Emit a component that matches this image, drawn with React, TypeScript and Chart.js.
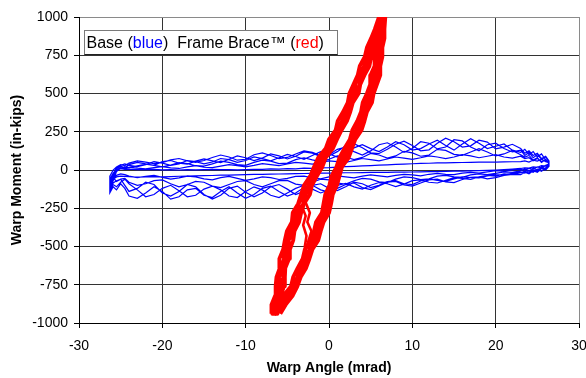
import React, { useEffect, useRef } from 'react';
import { Chart, registerables } from 'chart.js';

Chart.register(...registerables);

// ---------- axis ticks ----------
const angleTicks = [-30, -20, -10, 0, 10, 20, 30];
const momentTicks = [-1000, -750, -500, -250, 0, 250, 500, 750, 1000];

// ---------- Base (blue) hysteresis: shared angle grid ----------
const blueAngle = [
  -26.3, -25.9, -25.5, -25, -24.5, -24, -23, -22, -21, -20,
  -19, -18, -17, -16, -15, -14, -13, -12, -11, -10,
  -9, -8, -7, -6, -5, -4, -3, -2, -1, 0,
  1, 2, 3, 4, 5, 6, 7, 8, 9, 10,
  11, 12, 13, 14, 15, 16, 17, 18, 19, 20,
  21, 22, 23, 23.5, 24, 24.5, 25, 25.5, 26, 26.4,
];

// upper branches (angle increasing)
const blueUp1 = [
  -60, -20, 5, 8, 4, 6, 3, 2, 4, 1,
  2, 0, 3, 1, 2, 4, 2, 3, 1, 3,
  5, 4, 7, 6, 9, 8, 12, 11, 14, 15,
  19, 22, 24, 27, 29, 32, 34, 37, 39, 41,
  43, 44, 46, 47, 48, 49, 50, 51, 51, 52,
  53, 54, 55, 60, 52, 65, 58, 70, 55, 48,
];
const blueUp2 = [
  -90, -40, 10, 25, 15, 35, 50, 40, 30, 55,
  62, 45, 38, 58, 72, 60, 48, 70, 92, 80,
  62, 78, 105, 92, 72, 90, 118, 110, 88, 100,
  135, 150, 120, 98, 125, 165, 178, 150, 115, 140,
  185, 175, 138, 150, 198, 190, 150, 125, 165, 175,
  140, 118, 130, 95, 115, 80, 100, 70, 85, 55,
];
const blueUp3 = [
  -40, 0, 20, 35, 28, 45, 60, 52, 42, 48,
  66, 75, 60, 50, 62, 82, 98, 85, 64, 70,
  100, 112, 95, 75, 82, 105, 125, 115, 95, 92,
  120, 160, 172, 145, 112, 108, 135, 168, 188, 160,
  125, 132, 175, 208, 185, 150, 158, 195, 182, 138,
  150, 168, 140, 110, 125, 95, 110, 75, 90, 60,
];
const blueUp4 = [
  -120, -70, -10, 12, 20, 15, 28, 38, 30, 20,
  32, 48, 42, 28, 25, 40, 58, 50, 35, 30,
  50, 65, 58, 42, 45, 68, 80, 66, 55, 70,
  92, 85, 68, 82, 108, 98, 78, 92, 122, 112,
  90, 98, 135, 128, 102, 96, 118, 140, 118, 92,
  105, 128, 100, 85, 95, 65, 80, 50, 70, 40,
];
const blueUp5 = [
  -70, -30, 15, 30, 40, 30, 22, 35, 55, 45,
  30, 40, 62, 55, 40, 52, 75, 68, 50, 62,
  85, 75, 60, 80, 102, 88, 70, 95, 120, 105,
  85, 110, 145, 165, 140, 120, 150, 185, 165, 130,
  140, 170, 195, 160, 130, 170, 205, 175, 140, 155,
  170, 130, 115, 135, 100, 120, 85, 105, 65, 50,
];
const blueUp6 = [
  -100, -50, 0, 15, 8, 18, 12, 8, 15, 22,
  14, 10, 20, 28, 18, 15, 25, 35, 28, 20,
  30, 42, 35, 28, 40, 50, 45, 38, 48, 60,
  55, 50, 62, 75, 68, 60, 72, 85, 78, 70,
  80, 92, 85, 75, 85, 100, 92, 80, 90, 100,
  85, 78, 90, 75, 80, 60, 75, 55, 65, 45,
];

// lower branches (stored by angle grid, travelled with angle decreasing)
const blueDown1 = [
  -100, -60, -45, -40, -42, -44, -46, -45, -44, -45,
  -43, -41, -40, -38, -37, -36, -34, -33, -32, -30,
  -29, -28, -27, -26, -25, -24, -23, -22, -21, -20,
  -19, -18, -18, -17, -16, -16, -15, -14, -14, -13,
  -12, -11, -10, -9, -8, -7, -6, -4, -2, 0,
  3, 6, 10, 14, 12, 20, 18, 28, 25, 35,
];
const blueDown2 = [
  -150, -110, -130, -90, -120, -170, -185, -150, -110, -140,
  -190, -175, -130, -120, -165, -180, -140, -110, -150, -185,
  -160, -120, -105, -140, -170, -150, -115, -100, -130, -145,
  -120, -95, -85, -115, -128, -105, -80, -75, -98, -105,
  -85, -65, -60, -78, -82, -62, -48, -45, -58, -50,
  -35, -28, -30, -15, -25, -5, -15, 10, 0, 25,
];
const blueDown3 = [
  -130, -85, -70, -60, -100, -140, -120, -80, -95, -150,
  -170, -140, -95, -110, -160, -190, -165, -120, -105, -145,
  -175, -150, -110, -95, -125, -160, -140, -100, -90, -120,
  -135, -110, -80, -90, -115, -100, -75, -70, -90, -95,
  -72, -58, -68, -75, -58, -45, -50, -52, -38, -30,
  -32, -22, -12, -20, -5, -15, 5, -8, 15, 30,
];
const blueDown4 = [
  -80, -50, -75, -60, -55, -80, -100, -90, -70, -65,
  -90, -110, -95, -75, -80, -105, -115, -95, -75, -70,
  -95, -110, -90, -70, -68, -92, -100, -80, -60, -65,
  -85, -92, -70, -55, -60, -78, -82, -60, -45, -50,
  -62, -58, -40, -35, -45, -48, -32, -25, -30, -22,
  -12, -15, -5, 5, -8, 12, 0, 20, 8, 40,
];
const blueDown5 = [
  -140, -95, -110, -80, -60, -90, -130, -175, -160, -120,
  -100, -135, -175, -165, -125, -105, -130, -170, -180, -140,
  -110, -130, -165, -180, -150, -120, -100, -125, -150, -130,
  -100, -88, -110, -125, -100, -82, -90, -108, -92, -70,
  -65, -80, -85, -68, -50, -55, -62, -45, -35, -40,
  -25, -30, -18, -8, -20, 0, -10, 15, 5, 35,
];
const blueDown6 = [
  -90, -55, -35, -25, -30, -40, -50, -42, -35, -48,
  -60, -52, -40, -45, -58, -65, -50, -42, -55, -68,
  -58, -45, -50, -62, -55, -42, -40, -52, -58, -45,
  -38, -45, -52, -40, -32, -38, -45, -35, -28, -32,
  -38, -28, -22, -28, -30, -20, -15, -20, -12, -5,
  -8, 0, 5, -2, 10, 5, 20, 12, 30, 38,
];

// ---------- Frame Brace (red) hysteresis: shared moment grid ----------
const redMoment = [
  -940, -880, -820, -760, -700, -640, -580, -520, -460, -400, -340,
  -280, -220, -160, -100, -40, 20, 80, 140, 200, 260, 320,
  380, 440, 500, 560, 620, 680, 740, 800, 860, 920, 1000,
];
// loading branches (moment increasing)
const redUp1 = [
  -6.9, -6.9, -6.45, -6.4, -6.3, -5.9, -5.95, -5.5, -5.3, -5.05, -4.45,
  -4.35, -3.7, -3.35, -3.0, -2.25, -1.8, -1.3, -0.4, 0.0, 0.8, 1.05,
  1.7, 2.25, 2.45, 2.95, 3.45, 3.7, 4.3, 4.55, 5.05, 5.5, 6.0,
];
const redUp2 = [
  -6.8, -6.4, -6.3, -5.95, -6.0, -5.7, -5.4, -5.4, -4.85, -4.65, -4.4,
  -3.85, -3.65, -3.0, -2.45, -2.15, -1.35, -0.9, -0.35, 0.45, 1.0, 1.6,
  1.85, 2.4, 2.95, 3.15, 3.7, 4.25, 4.45, 4.95, 5.25, 5.75, 6.1,
];
const redUp3 = [
  -6.4, -6.3, -5.9, -5.9, -5.45, -5.5, -5.2, -4.9, -4.85, -4.25, -4.0,
  -3.75, -3.05, -2.85, -2.25, -1.65, -1.35, -0.5, 0.05, 0.55, 1.45, 1.75,
  2.15, 2.8, 3.15, 3.7, 3.85, 4.45, 4.95, 5.05, 5.6, 5.95, 6.4,
];
const redUp4 = [
  -6.2, -5.8, -5.8, -5.4, -5.3, -5.25, -4.8, -4.7, -4.3, -4.15, -3.6,
  -3.35, -3.0, -2.3, -2.05, -1.45, -0.8, -0.4, 0.45, 0.95, 1.5, 2.15,
  2.55, 2.85, 3.55, 3.75, 4.25, 4.85, 5.05, 5.45, 5.75, 6.25, 6.45,
];
// unloading branches (stored by moment grid, travelled with moment decreasing)
const redDown1 = [
  -6.65, -6.0, -5.45, -4.55, -4.3, -3.75, -3.15, -2.9, -2.25, -1.8, -1.55,
  -0.85, -0.65, -0.45, 0.05, 0.3, 0.9, 1.25, 1.85, 2.5, 2.8, 3.4,
  3.85, 4.05, 4.55, 4.95, 5.0, 5.45, 5.5, 5.5, 5.85, 6.05, 6.25,
];
const redDown2 = [
  -6.45, -5.6, -5.15, -4.4, -3.75, -3.55, -2.95, -2.35, -2.1, -1.45, -1.15,
  -0.8, -0.25, -0.05, 0.1, 0.75, 1.1, 1.75, 2.05, 2.65, 3.35, 3.55,
  4.05, 4.55, 4.75, 5.3, 5.45, 5.55, 5.9, 5.9, 5.95, 6.3, 6.35,
];
const redDown3 = [
  -6.25, -5.4, -4.65, -4.2, -3.6, -3.05, -2.8, -2.15, -1.6, -1.4, -0.75,
  -0.4, -0.15, 0.4, 0.55, 0.85, 1.5, 1.95, 2.55, 2.85, 3.5, 4.05,
  4.2, 4.75, 5.25, 5.35, 5.85, 5.95, 6.0, 6.3, 6.35, 6.4, 6.55,
];
const redDown4 = [
  -5.85, -5.2, -4.35, -3.8, -3.4, -2.75, -2.35, -2.0, -1.3, -1.0, -0.65,
  0.0, 0.25, 0.45, 0.95, 1.25, 1.55, 2.35, 2.75, 3.15, 3.9, 4.25,
  4.55, 5.15, 5.35, 5.75, 6.15, 6.15, 6.4, 6.4, 6.65, 6.65, 6.75,
];
// small inner loop inside the red band
const redInnerAngle = [-2.9, -2.3, -2.6, -2.1, -2.5, -2.2, -2.6, -2.9, -2.7, -3.1, -2.8, -3.3];
const redInnerMoment = [-200, -280, -340, -400, -470, -540, -580, -500, -430, -360, -300, -230];

// ---------- texts ----------
const xTitle = 'Warp Angle (mrad)';
const yTitle = 'Warp Moment (in-kips)';
const legendTexts = ['Base (', 'blue', ')  Frame Brace\u2122 (', 'red', ')'];

function buildBlue() {
  const ups = [blueUp1, blueUp2, blueUp3, blueUp4, blueUp5, blueUp6];
  const downs = [blueDown1, blueDown3, blueDown2, blueDown4, blueDown5, blueDown6];
  const pts: { x: number; y: number }[] = [];
  for (let c = 0; c < ups.length; c++) {
    for (let i = 0; i < blueAngle.length; i++) pts.push({ x: blueAngle[i], y: ups[c][i] });
    for (let i = blueAngle.length - 1; i >= 0; i--) pts.push({ x: blueAngle[i], y: downs[c][i] });
  }
  return pts;
}

function buildRed() {
  const ups = [redUp1, redUp2, redUp3, redUp4];
  const downs = [redDown1, redDown2, redDown3, redDown4];
  const pts: { x: number; y: number }[] = [];
  for (let c = 0; c < ups.length; c++) {
    for (let i = 0; i < redMoment.length; i++) pts.push({ x: ups[c][i], y: redMoment[i] });
    for (let i = redMoment.length - 1; i >= 0; i--) pts.push({ x: downs[c][i], y: redMoment[i] });
  }
  return pts;
}

function buildInner() {
  return redInnerAngle.map((a, i) => ({ x: a, y: redInnerMoment[i] }));
}

const FONT = '"Liberation Sans", Arial, Helvetica, sans-serif';

const legendBoxPlugin = {
  id: 'legendBox',
  afterDraw(chart: any) {
    const ctx = chart.ctx as CanvasRenderingContext2D;
    const a = chart.chartArea;
    const x = Math.round(a.left) + 5.5;
    const y = Math.round(a.top) + 13.5;
    const w = 253;
    const h = 24;
    ctx.save();
    ctx.fillStyle = '#ffffff';
    ctx.fillRect(x, y, w, h);
    ctx.strokeStyle = '#7a7a7a';
    ctx.lineWidth = 1;
    ctx.strokeRect(x, y, w, h);
    ctx.strokeStyle = '#222';
    ctx.beginPath();
    ctx.moveTo(x, y + h);
    ctx.lineTo(x + w, y + h);
    ctx.stroke();
    ctx.font = `16px ${FONT}`;
    ctx.textBaseline = 'alphabetic';
    ctx.textAlign = 'left';
    const colors = ['#000000', '#0000ff', '#000000', '#ff0000', '#000000'];
    let tx = x + 2;
    const ty = y + 17;
    legendTexts.forEach((t, i) => {
      ctx.fillStyle = colors[i];
      ctx.fillText(t, tx, ty);
      tx += ctx.measureText(t).width;
    });
    ctx.restore();
  },
};

export default function App() {
  const ref = useRef<HTMLCanvasElement | null>(null);

  useEffect(() => {
    document.body.style.margin = '0';
    const canvas = ref.current;
    if (!canvas) return;
    Chart.defaults.font.family = FONT;
    const chart = new Chart(canvas, {
      type: 'scatter',
      data: {
        datasets: [
          {
            label: 'Frame Brace',
            data: buildRed(),
            showLine: true,
            borderColor: '#ff0000',
            backgroundColor: '#ff0000',
            borderWidth: 3.9,
            borderJoinStyle: 'round',
            pointRadius: 0,
            tension: 0,
            order: 0,
            clip: 0,
          },
          {
            label: 'Frame Brace inner',
            data: buildInner(),
            showLine: true,
            borderColor: '#ff0000',
            backgroundColor: '#ff0000',
            borderWidth: 2.6,
            borderJoinStyle: 'round',
            pointRadius: 0,
            tension: 0,
            order: 0,
            clip: 0,
          },
          {
            label: 'Base',
            data: buildBlue(),
            showLine: true,
            borderColor: '#0000ff',
            backgroundColor: '#0000ff',
            borderWidth: 1.2,
            pointRadius: 0,
            tension: 0,
            order: 1,
            clip: 0,
          },
        ],
      },
      options: {
        animation: false,
        responsive: false,
        events: [],
        layout: { padding: { top: 17, right: 21, left: 0, bottom: 0 } },
        plugins: {
          legend: { display: false },
          tooltip: { enabled: false },
          title: { display: false },
        },
        scales: {
          x: {
            type: 'linear',
            min: -30,
            max: 30,
            afterBuildTicks: (s: any) => {
              s.ticks = angleTicks.map((v) => ({ value: v }));
            },
            afterFit: (s: any) => {
              s.height = 55;
            },
            grid: {
              color: (c: any) => (c.tick && c.tick.value === 30 ? '#8a8a8a' : '#333333'),
              lineWidth: 1,
              drawTicks: true,
              tickLength: 5,
              tickColor: '#000000',
            },
            border: { display: true, color: '#000000', width: 1 },
            ticks: {
              color: '#000000',
              font: { size: 14, family: FONT },
              padding: 10,
              maxRotation: 0,
              autoSkip: false,
              callback: (v: any) => String(v),
            },
            title: {
              display: true,
              text: xTitle,
              color: '#000000',
              font: { size: 14, weight: 'bold', family: FONT },
              padding: { top: 0, bottom: 1 },
            },
          },
          y: {
            type: 'linear',
            min: -1000,
            max: 1000,
            afterBuildTicks: (s: any) => {
              s.ticks = momentTicks.map((v) => ({ value: v }));
            },
            afterFit: (s: any) => {
              s.width = 79;
            },
            grid: {
              color: (c: any) => (c.tick && c.tick.value === 1000 ? '#8a8a8a' : '#333333'),
              lineWidth: 1,
              drawTicks: true,
              tickLength: 5,
              tickColor: '#000000',
            },
            border: { display: true, color: '#000000', width: 1 },
            ticks: {
              color: '#000000',
              font: { size: 14, family: FONT },
              padding: 6,
              autoSkip: false,
              callback: (v: any) => String(v),
            },
            title: {
              display: true,
              text: yTitle,
              color: '#000000',
              font: { size: 14, weight: 'bold', family: FONT },
              padding: { top: 9, bottom: 0 },
            },
          },
        },
      },
      plugins: [legendBoxPlugin],
    });
    return () => chart.destroy();
  }, []);

  return (
    <div style={{ width: 586, height: 378, overflow: 'hidden', background: '#ffffff' }}>
      <canvas ref={ref} width={600} height={378} style={{ width: 600, height: 378, display: 'block' }} />
    </div>
  );
}
